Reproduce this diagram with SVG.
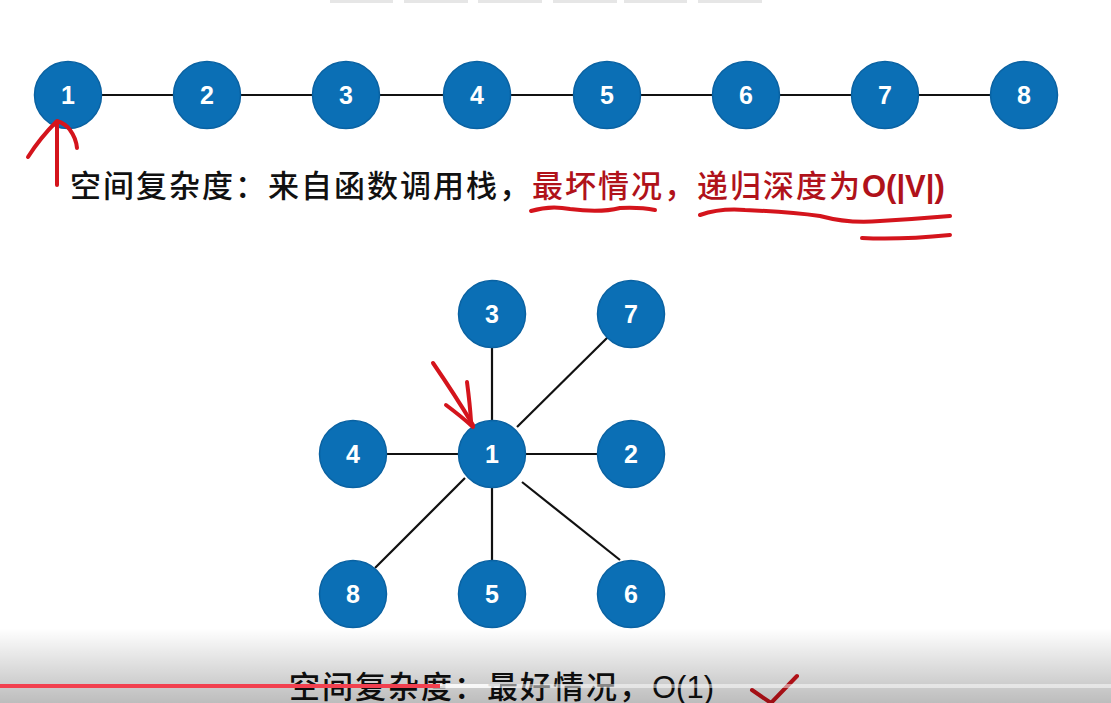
<svg xmlns="http://www.w3.org/2000/svg" width="1111" height="703" viewBox="0 0 1111 703">
<style>
.node circle{fill:#0b6fb5;stroke:#0a62a2;stroke-width:1.5}
.node text{fill:#fff;font-family:"Liberation Sans",Arial,sans-serif;font-size:25px;font-weight:700;text-anchor:middle}
.edge{stroke:#111;stroke-width:2.2;fill:none}
.ink{stroke:#d4141c;stroke-width:4;fill:none;stroke-linecap:round;stroke-linejoin:round}
.txt{font-family:"Noto Sans CJK SC","Noto Sans",sans-serif;font-size:31px;letter-spacing:2px;font-weight:500}
.lat{font-family:"Liberation Sans",Arial,sans-serif;letter-spacing:0}
</style>
<defs>
<linearGradient id="shade" x1="0" y1="0" x2="0" y2="1">
<stop offset="0" stop-color="#000" stop-opacity="0"/>
<stop offset="1" stop-color="#000" stop-opacity="0.26"/>
</linearGradient>
</defs>
<rect width="1111" height="703" fill="#fff"/>
<g fill="#e6e6e6">
<rect x="330" y="0" width="63" height="3"/><rect x="404" y="0" width="64" height="3"/><rect x="478" y="0" width="64" height="3"/><rect x="553" y="0" width="64" height="3"/><rect x="624" y="0" width="63" height="3"/><rect x="698" y="0" width="64" height="3"/>
</g>
<g id="connectors">
<line class="edge" x1="68" y1="95" x2="1024" y2="95"/>
<line class="edge" x1="492" y1="346" x2="492" y2="424"/>
<line class="edge" x1="517" y1="427" x2="608" y2="337"/>
<line class="edge" x1="386" y1="454" x2="458" y2="454"/>
<line class="edge" x1="526" y1="454" x2="598" y2="454"/>
<line class="edge" x1="465" y1="478" x2="375" y2="568"/>
<line class="edge" x1="492" y1="486" x2="492" y2="562"/>
<line class="edge" x1="522" y1="482" x2="620" y2="560"/>
</g>
<g id="n1" class="node"><circle cx="68" cy="95" r="33.5"/><text x="68" y="104">1</text></g>
<g id="n2" class="node"><circle cx="207" cy="95" r="33.5"/><text x="207" y="104">2</text></g>
<g id="n3" class="node"><circle cx="346" cy="95" r="33.5"/><text x="346" y="104">3</text></g>
<g id="n4" class="node"><circle cx="477" cy="95" r="33.5"/><text x="477" y="104">4</text></g>
<g id="n5" class="node"><circle cx="607" cy="95" r="33.5"/><text x="607" y="104">5</text></g>
<g id="n6" class="node"><circle cx="746" cy="95" r="33.5"/><text x="746" y="104">6</text></g>
<g id="n7" class="node"><circle cx="885" cy="95" r="33.5"/><text x="885" y="104">7</text></g>
<g id="n8" class="node"><circle cx="1024" cy="95" r="33.5"/><text x="1024" y="104">8</text></g>
<g id="s3" class="node"><circle cx="492" cy="314" r="33.5"/><text x="492" y="323">3</text></g>
<g id="s7" class="node"><circle cx="631" cy="314" r="33.5"/><text x="631" y="323">7</text></g>
<g id="s4" class="node"><circle cx="353" cy="454" r="33.5"/><text x="353" y="463">4</text></g>
<g id="s1" class="node"><circle cx="492" cy="454" r="33.5"/><text x="492" y="463">1</text></g>
<g id="s2" class="node"><circle cx="631" cy="454" r="33.5"/><text x="631" y="463">2</text></g>
<g id="s8" class="node"><circle cx="353" cy="594" r="33.5"/><text x="353" y="603">8</text></g>
<g id="s5" class="node"><circle cx="492" cy="594" r="33.5"/><text x="492" y="603">5</text></g>
<g id="s6" class="node"><circle cx="631" cy="594" r="33.5"/><text x="631" y="603">6</text></g>
<text class="txt" x="70" y="197" fill="#111">空间复杂度：来自函数调用栈，<tspan fill="#b0121a">最坏情况，递归深度为</tspan><tspan class="lat" fill="#b0121a" font-weight="700">O(|V|)</tspan></text>
<text class="txt" x="289" y="698" fill="#111">空间复杂度：最好情况，<tspan class="lat">O(1)</tspan></text>
<g id="annotations">
<path class="ink" d="M57 185 L57 122"/>
<path class="ink" d="M28 157 Q40 138 57 121 Q66 124 70 130 Q76 138 77 148"/>
<path class="ink" d="M531 211 Q550 205 570 209 Q600 213 620 208 Q640 207 655 210"/>
<path class="ink" d="M700 215 Q720 208 745 210 Q790 212 820 216 Q850 224 880 221 Q915 219 950 216"/>
<path class="ink" d="M862 238 Q900 240 950 235"/>
<path class="ink" stroke-width="6" d="M433 363 Q455 395 473 425"/>
<path class="ink" stroke-width="6" d="M446 405 Q462 417 473 427"/>
<path class="ink" stroke-width="6" d="M467 382 Q470 405 471 421"/>
<path class="ink" d="M752 690 L771 703 L797 676"/>
</g>
<rect x="0" y="628" width="1111" height="75" fill="url(#shade)"/>
<rect x="0" y="684" width="440" height="4" fill="#f2404f"/>
<rect x="440" y="684" width="60" height="4" fill="#fff" fill-opacity="0.85"/>
<rect x="500" y="684" width="611" height="4" fill="#fff" fill-opacity="0.5"/>
</svg>
